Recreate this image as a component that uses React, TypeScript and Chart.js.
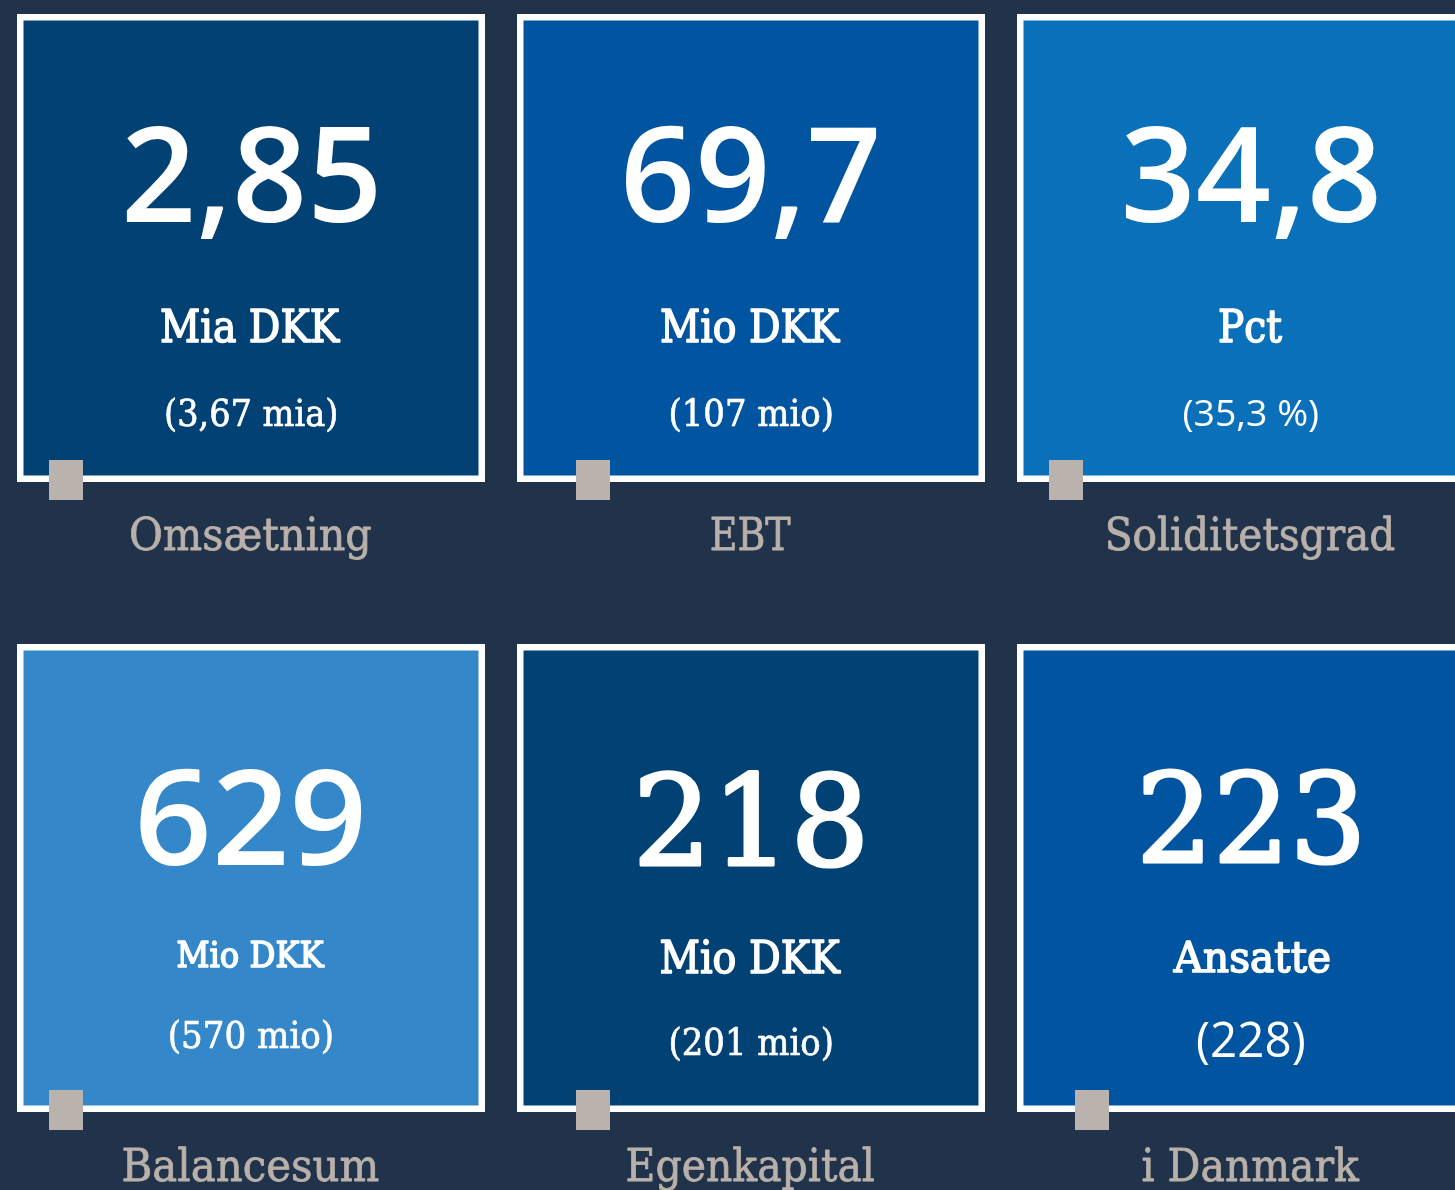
import React, { useEffect, useRef } from "react";
import { Chart, registerables } from "chart.js";

Chart.register(...registerables);

// ---- data ----
const categories = ["Omsætning", "EBT", "Soliditetsgrad", "Balancesum", "Egenkapital", "i Danmark"];
const values = ["2,85", "69,7", "34,8", "629", "218", "223"];
const units = ["Mia DKK", "Mio DKK", "Pct", "Mio DKK", "Mio DKK", "Ansatte"];
const previous = ["(3,67 mia)", "(107 mio)", "(35,3 %)", "(570 mio)", "(201 mio)", "(228)"];
const gridCol = [0, 1, 2, 0, 1, 2];
const gridRow = [0, 0, 0, 1, 1, 1];

// ---- styles ----
const BG = "#21324b";
const TILE_COLORS = ["#024173", "#0155a0", "#0a70b9", "#3487c8", "#024173", "#0155a0"];
const MARKER_COLOR = "#bab3ad";
const LABEL_COLOR = "#b8b0a9";
const SANS = '"Open Sans", "Noto Sans", sans-serif';
const SLAB = '"DejaVu Serif", serif';

const STYLE = [
  { big: `600 132px ${SANS}`, bigS: 0, bigW: 250, bigOff: 208, unit: `44px ${SLAB}`, unitW: 180, unitOff: 328, prev: `37px ${SLAB}`, prevS: 0.7, prevW: 171, prevOff: 412, labW: 241, labOff: 536, mk: 32 },
  { big: `600 132px ${SANS}`, bigS: 0, bigW: 250, bigOff: 208, unit: `44px ${SLAB}`, unitW: 180, unitOff: 328, prev: `37px ${SLAB}`, prevS: 0.7, prevW: 162, prevOff: 412, labW: 80, labOff: 536, mk: 59 },
  { big: `600 132px ${SANS}`, bigS: 0, bigW: 251, bigOff: 208, unit: `44px ${SLAB}`, unitW: 64, unitOff: 328, prev: `500 36px ${SANS}`, prevS: 0, prevW: 135, prevOff: 412, labW: 288, labOff: 536, mk: 32 },
  { big: `600 132px ${SANS}`, bigS: 0, bigW: 221, bigOff: 221, unit: `36px ${SLAB}`, unitW: 149, unitOff: 323, prev: `38px ${SLAB}`, prevS: 0.7, prevW: 162, prevOff: 404, labW: 256, labOff: 537, mk: 32 },
  { big: `126px ${SLAB}`, bigS: 3.2, bigW: 224, bigOff: 221, unit: `44px ${SLAB}`, unitW: 181, unitOff: 329, prev: `37px ${SLAB}`, prevS: 0.7, prevW: 162, prevOff: 411, labW: 248, labOff: 537, mk: 59 },
  { big: `124px ${SLAB}`, bigS: 3.2, bigW: 217, bigOff: 218, unit: `42px ${SLAB}`, unitW: 158, unitOff: 328, prev: `500 50px ${SANS}`, prevS: 0, prevW: 106, prevOff: 413, labW: 218, labOff: 537, mk: 58 },
];

function drawFit(
  ctx: CanvasRenderingContext2D,
  text: string,
  cx: number,
  baseline: number,
  font: string,
  targetW: number,
  color: string,
  strokeW: number
) {
  ctx.font = font;
  ctx.textAlign = "left";
  ctx.textBaseline = "alphabetic";
  const m = ctx.measureText(text);
  const L = m.actualBoundingBoxLeft;
  const w = L + m.actualBoundingBoxRight;
  const inner = targetW - strokeW;
  const s = targetW && w > 0 ? inner / w : 1;
  ctx.save();
  ctx.translate(cx, baseline);
  ctx.scale(s, 1);
  ctx.fillStyle = color;
  ctx.fillText(text, -w / 2 + L, 0);
  if (strokeW > 0) {
    ctx.strokeStyle = color;
    ctx.lineJoin = "round";
    ctx.lineWidth = strokeW;
    ctx.strokeText(text, -w / 2 + L, 0);
  }
  ctx.restore();
}

const tilePlugin = {
  id: "tiles",
  beforeDraw(chart: any) {
    const ctx = chart.ctx;
    ctx.save();
    ctx.fillStyle = BG;
    ctx.fillRect(0, 0, chart.width, chart.height);
    ctx.restore();
  },
  afterDatasetsDraw(chart: any) {
    const ctx: CanvasRenderingContext2D = chart.ctx;
    const xs = chart.scales.x;
    const meta = chart.getDatasetMeta(0);
    const half = xs.getPixelForValue(0.468) - xs.getPixelForValue(0);
    const border = 6.5;
    meta.data.forEach((el: any, i: number) => {
      const cx = el.x;
      const cy = el.y;
      const left = cx - half;
      const top = cy - half;
      const size = half * 2;
      const st = STYLE[i];
      ctx.save();
      ctx.fillStyle = "#ffffff";
      ctx.fillRect(left, top, size, size);
      ctx.fillStyle = TILE_COLORS[i];
      ctx.fillRect(left + border, top + border, size - 2 * border, size - 2 * border);
      ctx.fillStyle = MARKER_COLOR;
      ctx.fillRect(left + st.mk, top + size - 22, 34, 40);
      ctx.restore();
      drawFit(ctx, values[i], cx, top + st.bigOff, st.big, st.bigW, "#ffffff", st.bigS);
      drawFit(ctx, units[i], cx, top + st.unitOff, st.unit, st.unitW, "#ffffff", 1.6);
      drawFit(ctx, previous[i], cx, top + st.prevOff, st.prev, st.prevW, "#ffffff", st.prevS);
      drawFit(ctx, categories[i], cx, top + st.labOff, `45px ${SLAB}`, st.labW, LABEL_COLOR, 0.8);
    });
  },
};

export default function App() {
  const ref = useRef<HTMLCanvasElement | null>(null);
  useEffect(() => {
    document.body.style.margin = "0";
    document.body.style.background = BG;
    if (!ref.current) return;
    const chart = new Chart(ref.current, {
      type: "scatter",
      data: {
        datasets: [
          {
            label: "KPI",
            data: categories.map((_, i) => ({ x: gridCol[i], y: gridRow[i] })),
            pointRadius: 0,
            pointHoverRadius: 0,
          },
        ],
      },
      options: {
        animation: false,
        responsive: false,
        devicePixelRatio: 1,
        layout: { padding: 0 },
        events: [],
        plugins: { legend: { display: false }, tooltip: { enabled: false } },
        scales: {
          x: { type: "linear", display: false, min: -0.502, max: 2.408 },
          y: { type: "linear", display: false, reverse: true, min: -248 / 630, max: 1 + 312 / 630 },
        },
      },
      plugins: [tilePlugin],
    });
    return () => chart.destroy();
  }, []);
  return (
    <div style={{ position: "absolute", left: 0, top: 0, width: 1455, height: 1190 }}>
      <canvas ref={ref} width={1455} height={1190} style={{ display: "block", width: 1455, height: 1190 }} />
    </div>
  );
}
